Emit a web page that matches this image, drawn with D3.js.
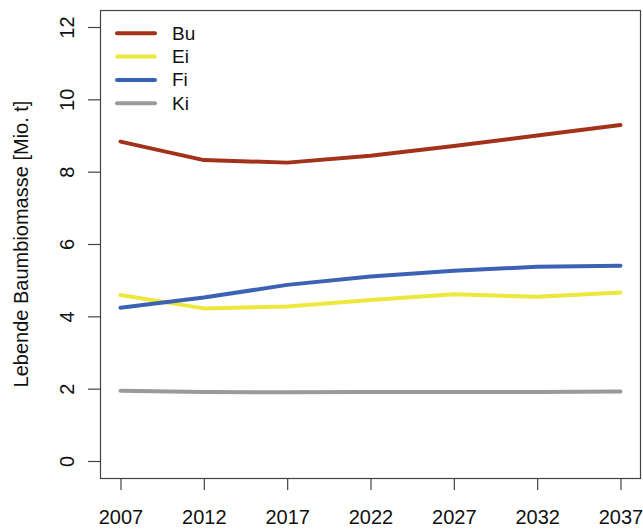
<!DOCTYPE html>
<html>
<head>
<meta charset="utf-8">
<script src="https://cdn.jsdelivr.net/npm/d3@7"></script>
<style>
  html, body { margin: 0; padding: 0; background: #fff; }
  svg { display: block; font-family: "Liberation Sans", Arial, Helvetica, sans-serif; }
</style>
</head>
<body>
<svg id="chart" width="643" height="530"></svg>
<script>
const years = [2007, 2012, 2017, 2022, 2027, 2032, 2037];
const bu = [8.83, 8.32, 8.25, 8.44, 8.71, 9.00, 9.29];
const ei = [4.59, 4.22, 4.27, 4.45, 4.61, 4.54, 4.66];
const fi = [4.24, 4.52, 4.87, 5.10, 5.26, 5.37, 5.40];
const ki = [1.94, 1.91, 1.90, 1.91, 1.91, 1.91, 1.92];
const seriesNames = ["Bu", "Ei", "Fi", "Ki"];
const seriesColors = ["#A3321A", "#EDE83C", "#3C62B4", "#9A9A9A"];
const yTicks = [0, 2, 4, 6, 8, 10, 12];
const yLabel = "Lebende Baumbiomasse [Mio. t]";

const seriesValues = [bu, ei, fi, ki];
const svg = d3.select("#chart");
const box = { left: 100, right: 641, top: 10, bottom: 478 };

const x = d3.scaleLinear().domain([2007, 2037]).range([120.5, 620.5]);
const y = d3.scaleLinear().domain([0, 12]).range([461, 27]);

// plot box
svg.append("rect")
  .attr("x", box.left + 0.5).attr("y", box.top + 0.5)
  .attr("width", box.right - box.left - 1).attr("height", box.bottom - box.top)
  .attr("fill", "none").attr("stroke", "#444").attr("stroke-width", 1.2);

// x axis
const xAxis = svg.append("g").attr("transform", `translate(0,${box.bottom})`)
  .call(d3.axisBottom(x).tickValues(years).tickFormat(d3.format("d")).tickSize(12).tickPadding(20));
xAxis.select(".domain").remove();
xAxis.selectAll(".tick line").attr("stroke", "#444").attr("stroke-width", 1.2);
xAxis.selectAll(".tick text").attr("font-size", 20).attr("fill", "#111")
  .attr("font-family", "Liberation Sans, Arial, sans-serif");

// y axis
const yAxis = svg.append("g").attr("transform", `translate(${box.left},0)`)
  .call(d3.axisLeft(y).tickValues(yTicks).tickSize(12).tickPadding(0));
yAxis.select(".domain").remove();
yAxis.selectAll(".tick line").attr("stroke", "#444").attr("stroke-width", 1.2);
yAxis.selectAll(".tick text")
  .attr("font-size", 20).attr("fill", "#111")
  .attr("font-family", "Liberation Sans, Arial, sans-serif")
  .attr("text-anchor", "middle")
  .attr("x", 0).attr("dy", 0)
  .attr("transform", "translate(-33,0) rotate(-90)")
  .attr("dominant-baseline", "central");

// y label
svg.append("text")
  .attr("transform", `translate(21,${(box.top + box.bottom) / 2}) rotate(-90)`)
  .attr("text-anchor", "middle").attr("dominant-baseline", "central")
  .attr("font-size", 20).attr("fill", "#111")
  .text(yLabel);

// lines
const line = d3.line().x((d, i) => x(years[i])).y(d => y(d));
seriesValues.forEach((vals, k) => {
  svg.append("path")
    .datum(vals)
    .attr("d", line)
    .attr("fill", "none")
    .attr("stroke", seriesColors[k])
    .attr("stroke-width", 4)
    .attr("stroke-linecap", "round")
    .attr("stroke-linejoin", "round");
});

// legend
const legend = svg.append("g");
seriesNames.forEach((name, k) => {
  const ly = 33.3 + k * 23.3;
  legend.append("line")
    .attr("x1", 117).attr("x2", 155).attr("y1", ly).attr("y2", ly)
    .attr("stroke", seriesColors[k]).attr("stroke-width", 4).attr("stroke-linecap", "round");
  legend.append("text")
    .attr("x", 172).attr("y", ly).attr("dominant-baseline", "central")
    .attr("font-size", 19).attr("fill", "#111")
    .text(name);
});
</script>
</body>
</html>
